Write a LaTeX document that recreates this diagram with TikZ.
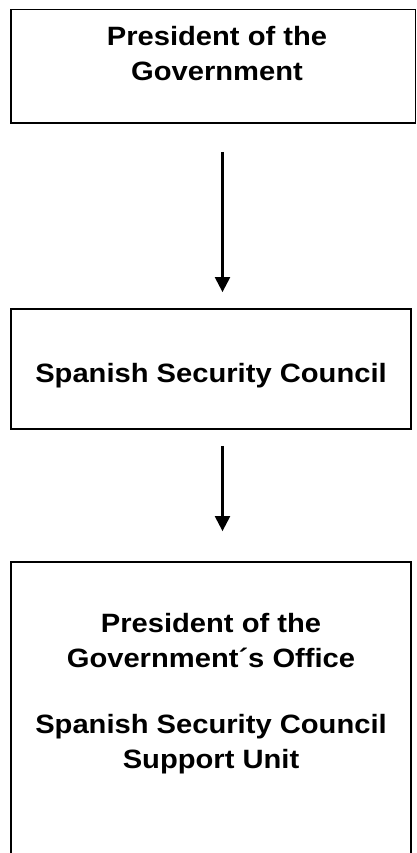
\documentclass[tikz,border=0pt]{standalone}
\usepackage{fontspec}
\setmainfont{Liberation Sans}[FakeStretch=1.1]
\usetikzlibrary{arrows.meta}
\begin{document}
\begin{tikzpicture}[x=1pt,y=-1pt,
  box/.style={draw, line width=1.8pt, inner sep=0pt, rectangle},
  lbl/.style={anchor=base, inner sep=0pt, font=\bfseries\fontsize{26.5}{34}\selectfont},
  arr/.style={line width=2.3pt, -{Triangle[width=15pt,length=15pt]}}]
\clip (0,0) rectangle (417,853);
\fill[white] (0,0) rectangle (417,853);
% boxes
\node[box, minimum width=404.5pt, minimum height=113.5pt] (b1) at (213.25,66.25) {};
\node[box, minimum width=399.7pt, minimum height=120pt] (b2) at (210.85,369) {};
\node[box, minimum width=399.7pt, minimum height=340pt] (b3) at (210.85,732) {};
% texts
\node[lbl] (t1a) at (217,46) {President of the};
\node[lbl] (t1b) at (217,81) {Government};
\node[lbl] (t2) at (211,382) {Spanish Security Council};
\node[lbl] (t3a) at (211,632) {President of the};
\node[lbl] (t3b) at (211,667) {Government´s Office};
\node[lbl] (t3c) at (211,733) {Spanish Security Council};
\node[lbl] (t3d) at (211,768) {Support Unit};
% arrows
\coordinate (ax) at (222.5,0);
\draw[arr, shorten <=28pt, shorten >=16pt] (b1.south -| ax) -- (b2.north -| ax);
\draw[arr, shorten <=16pt, shorten >=30pt] (b2.south -| ax) -- (b3.north -| ax);
\end{tikzpicture}
\end{document}
